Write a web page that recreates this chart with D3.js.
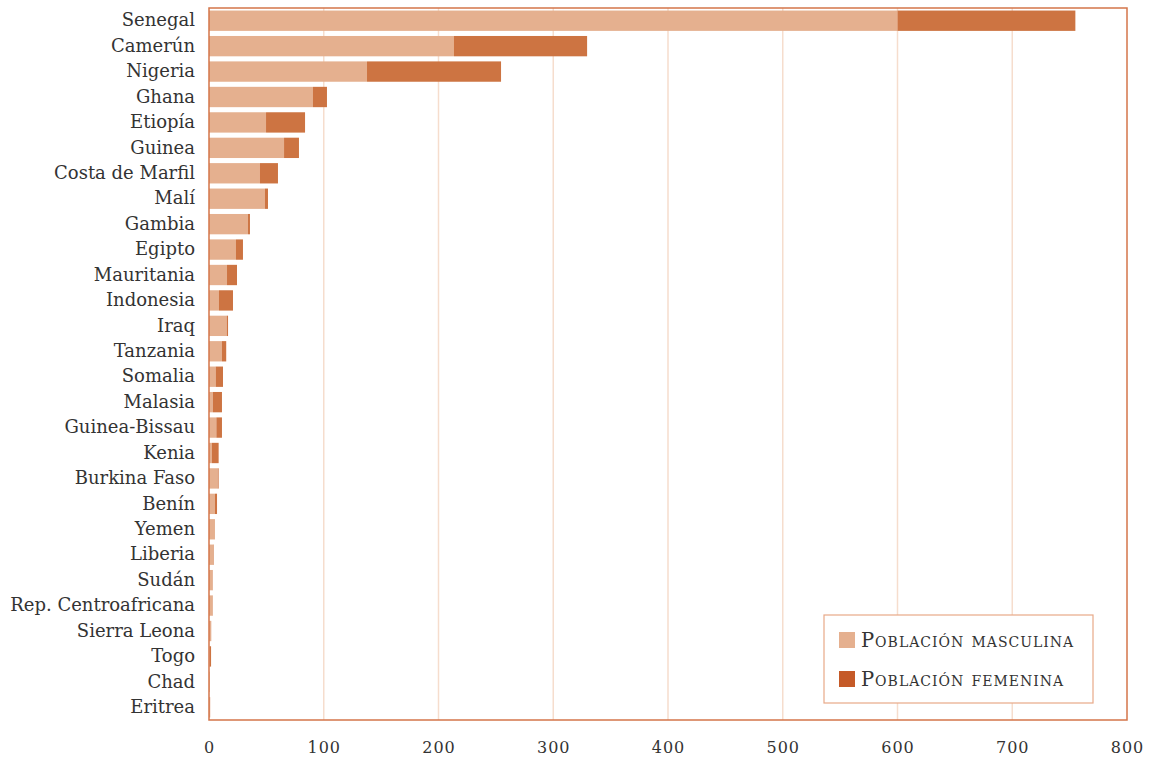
<!DOCTYPE html>
<html><head><meta charset="utf-8">
<script src="https://cdn.jsdelivr.net/npm/d3@7"></script>
<style>
body{margin:0;background:#fff;}
text{font-family:"DejaVu Serif",serif;fill:#333;}
</style></head>
<body><svg id="c" width="1150" height="762"></svg>
<script>
const categories = ["Senegal","Camerún","Nigeria","Ghana","Etiopía","Guinea","Costa de Marfil","Malí","Gambia","Egipto","Mauritania","Indonesia","Iraq","Tanzania","Somalia","Malasia","Guinea-Bissau","Kenia","Burkina Faso","Benín","Yemen","Liberia","Sudán","Rep. Centroafricana","Sierra Leona","Togo","Chad","Eritrea"];
const masculina = [600,213.5,137.7,90.6,49.7,65.4,44.4,48.8,34,23.5,15.7,8.7,15.4,11.3,5.8,3.3,6.4,2.6,7.6,5.2,5.2,4.0,3.0,3.0,1.7,0.6,0.5,0.5];
const femenina  = [155,116,116.8,12.2,34,13,15.7,2.6,1.7,6.1,8.7,12.2,1.2,3.7,6.4,8.0,4.9,5.8,0.8,1.8,0,0.3,0.3,0.3,0.2,1.2,0.1,0.5];
const xTicks = [0,100,200,300,400,500,600,700,800];
const seriesNames = ["Población masculina","Población femenina"];
const colors = ["#E5B08F","#CD7442"];

const svg = d3.select("#c");
const L=209, R=1127, T=8, B=720;
const x = d3.scaleLinear().domain([0,800]).range([L,R]);
const y = d3.scaleBand().domain(categories).range([T,B]).paddingInner(0.2).paddingOuter(0.1);

svg.append("g").selectAll("line").data(xTicks.slice(1,-1)).join("line")
  .attr("x1",d=>x(d)).attr("x2",d=>x(d)).attr("y1",T).attr("y2",B)
  .attr("stroke","#F6DDCD").attr("stroke-width",1.5);

const data = categories.map((c,i)=>({cat:c, m:masculina[i], f:femenina[i]}));
const g = svg.append("g");
g.selectAll("rect.m").data(data).join("rect").attr("class","m")
  .attr("x",x(0)).attr("y",d=>y(d.cat)).attr("height",y.bandwidth())
  .attr("width",d=>x(d.m)-x(0)).attr("fill",colors[0]);
g.selectAll("rect.f").data(data).join("rect").attr("class","f")
  .attr("x",d=>x(d.m)).attr("y",d=>y(d.cat)).attr("height",y.bandwidth())
  .attr("width",d=>x(d.m+d.f)-x(d.m)).attr("fill",colors[1]);

svg.append("rect").attr("x",L).attr("y",T).attr("width",R-L).attr("height",B-T)
  .attr("fill","none").attr("stroke","#D4754A").attr("stroke-width",1.5);

const ya = svg.append("g").attr("transform",`translate(${L},0)`)
  .call(d3.axisLeft(y).tickSize(0).tickPadding(14));
ya.select(".domain").remove();
ya.selectAll("text").style("font-size","18px").style("font-family","\"DejaVu Serif\",serif").attr("fill","#333");

const xa = svg.append("g").attr("transform",`translate(0,${B})`)
  .call(d3.axisBottom(x).tickValues(xTicks).tickSize(0).tickPadding(22));
xa.select(".domain").remove();
xa.selectAll("text").style("font-size","16px").style("font-family","\"DejaVu Serif\",serif").style("letter-spacing","1px").attr("fill","#333");

const lg = svg.append("g");
lg.append("rect").attr("x",824).attr("y",615).attr("width",269).attr("height",88)
  .attr("fill","#fff").attr("stroke","#E8A988").attr("stroke-width",1.2);
seriesNames.forEach((s,i)=>{
  lg.append("rect").attr("x",839).attr("y",632+i*39).attr("width",16).attr("height",16).attr("fill",i?"#C55A28":"#E5B08F");
  lg.append("text").attr("x",861).attr("y",647+i*39).text(s)
    .style("font-size","19.5px").style("font-variant","small-caps").style("letter-spacing","1px");
});
</script></body></html>
